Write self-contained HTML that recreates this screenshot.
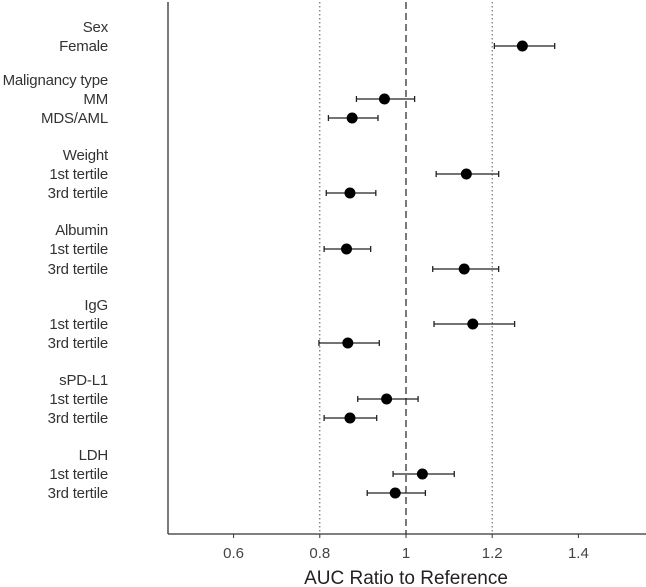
<!DOCTYPE html>
<html><head><meta charset="utf-8"><style>
body{margin:0;background:#fff;}
svg{display:block;font-family:"Liberation Sans",Arial,sans-serif;}
</style></head><body>
<svg id="chart" width="646" height="587"></svg>
<script>
const rowLabels=["Sex","Female","Malignancy type","MM","MDS/AML","Weight","1st tertile","3rd tertile","Albumin","1st tertile","3rd tertile","IgG","1st tertile","3rd tertile","sPD-L1","1st tertile","3rd tertile","LDH","1st tertile","3rd tertile"];
const rowY=[27,46,80,99,118,155,174,193,230,249,269,305,324,343,380,399,418,455,474,493];
const estimates=[null,1.27,null,0.95,0.875,null,1.14,0.87,null,0.862,1.135,null,1.155,0.865,null,0.955,0.87,null,1.038,0.975];
const lower=[null,1.205,null,0.885,0.82,null,1.07,0.815,null,0.81,1.062,null,1.065,0.798,null,0.888,0.81,null,0.97,0.91];
const upper=[null,1.345,null,1.02,0.935,null,1.215,0.93,null,0.918,1.215,null,1.252,0.938,null,1.028,0.932,null,1.112,1.045];
const xTicks=[0.6,0.8,1,1.2,1.4];
const xTickLabels=["0.6","0.8","1","1.2","1.4"];
const refLines=[0.8,1.2];

const svg=document.getElementById('chart');
const NS='http://www.w3.org/2000/svg';
const x=v=>406+(v-1)*431;
function mk(t,a,name){const e=document.createElementNS(NS,t);for(const k in a)e.setAttribute(k,a[k]);


svg.appendChild(e);return e;}
const axTop=2,axBot=534;
refLines.forEach(v=>mk('line',{x1:x(v),x2:x(v),y1:axTop,y2:axBot,stroke:'#555','stroke-dasharray':'1.5,2.5','stroke-width':1},'reference-dotted-line'));
mk('line',{x1:x(1),x2:x(1),y1:axTop,y2:axBot,stroke:'#333','stroke-dasharray':'7,4','stroke-width':1.3},'null-line');
mk('line',{x1:168,x2:168,y1:axTop,y2:axBot,stroke:'#333','stroke-width':1.3},'y-axis-line');
mk('line',{x1:168,x2:646,y1:axBot,y2:axBot,stroke:'#333','stroke-width':1.3},'x-axis-line');
xTicks.forEach((v,i)=>{
 mk('line',{x1:x(v),x2:x(v),y1:axBot,y2:axBot+4,stroke:'#333'},'x-tick');
 const t=mk('text',{x:x(v),y:axBot+24,'text-anchor':'middle','font-size':15,fill:'#444'},'x-tick-label');t.textContent=xTickLabels[i];
});
const tt=mk('text',{x:406,y:584,'text-anchor':'middle','font-size':19,fill:'#222'},'x-axis-title');tt.textContent='AUC Ratio to Reference';
rowLabels.forEach((l,i)=>{
 const t=mk('text',{x:108,y:rowY[i]+5,'text-anchor':'end','font-size':15,fill:'#333','letter-spacing':'-0.2'},'row-label');t.textContent=l;
 if(estimates[i]!==null){
  const y=rowY[i];
  mk('line',{x1:x(lower[i]),x2:x(upper[i]),y1:y,y2:y,stroke:'#222','stroke-width':1.3},'ci-line');
  mk('line',{x1:x(lower[i]),x2:x(lower[i]),y1:y-3,y2:y+3,stroke:'#222','stroke-width':1.3},'ci-cap-lower');
  mk('line',{x1:x(upper[i]),x2:x(upper[i]),y1:y-3,y2:y+3,stroke:'#222','stroke-width':1.3},'ci-cap-upper');
  mk('circle',{cx:x(estimates[i]),cy:y,r:5.5,fill:'#000'},'estimate-point');
 }
});
</script>
</body></html>
